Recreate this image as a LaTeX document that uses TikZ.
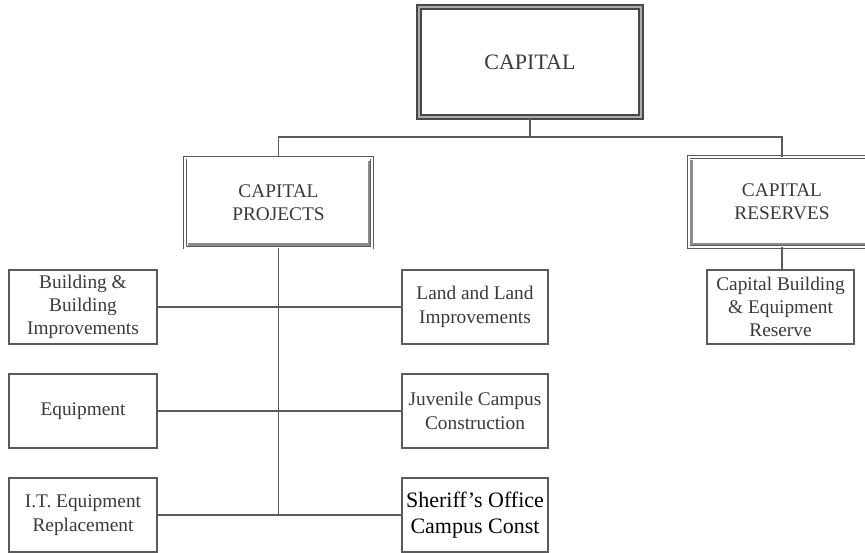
\documentclass[tikz,border=0pt]{standalone}
\usepackage{fontspec}
\setmainfont{Liberation Serif}
\definecolor{ln}{HTML}{5A5A5A}
\definecolor{tx}{HTML}{3A3A3A}
\definecolor{frame}{HTML}{484848}
\definecolor{shd}{HTML}{8C8C8C}
\begin{document}
\begin{tikzpicture}[x=0.75pt,y=-0.75pt,
  base/.style={align=center,text=tx,inner sep=0pt,font=\fontsize{14.5}{17.5}\selectfont},
  leaf/.style={base,draw=ln,line width=0.975pt,minimum width=110.25pt,minimum height=55.5pt},
  mid/.style={base,draw=ln,line width=0.675pt,double=white,double distance=1.5pt,minimum width=140.25pt,minimum height=67.5pt},
  top/.style={base,draw=frame,line width=1.8pt,double=gray!65,double distance=1pt,minimum width=166.5pt,minimum height=82.5pt,font=\fontsize{16.5}{19}\selectfont},
  conn/.style={draw=ln,line width=1.05pt},
  shade/.style={draw=shd,line width=2pt}]
\useasboundingbox (0,0) rectangle (865,553);
\clip (0,0) rectangle (865,553);
\fill[white] (0,0) rectangle (865,553);

\node[top] (cap) at (530,62) {CAPITAL};
\node[mid] (proj) at (278.5,202.5) {CAPITAL\\PROJECTS};
\node[mid] (res) at (782,202) {CAPITAL\\RESERVES};

\node[leaf,minimum width=111pt] (bld) at (83,307) {Building \&\\Building\\Improvements};
\node[leaf,minimum width=111pt] (eq) at (83,411) {Equipment};
\node[leaf,minimum width=111pt] (it) at (83,515) {I.T. Equipment\\Replacement};

\node[leaf,minimum width=109.5pt] (land) at (475,307) {Land and Land\\Improvements};
\node[leaf,minimum width=109.5pt] (juv) at (475,411) {Juvenile Campus\\Construction};
\node[leaf,minimum width=109.5pt,text=black,font=\fontsize{16.5}{19}\selectfont] (sher) at (475,515) {Sheriff’s Office\\Campus Const};

\node[leaf] (cb) at (780.5,307) {Capital Building\\\& Equipment\\Reserve};

% 3D shading on double frames
\draw[shade] ([shift={(3.5,-3.5)}]proj.south west) -- ([shift={(-3.5,-3.5)}]proj.south east) -- ([shift={(-3.5,3.5)}]proj.north east);
\draw[shade] ([shift={(3.5,-3.5)}]res.south east) -- ([shift={(3.5,-3.5)}]res.south west) -- ([shift={(3.5,3.5)}]res.north west);

% connectors
\coordinate (bus) at (530,137);
\draw[conn] (cap.south) -- (bus);
\draw[conn] (proj.north) |- (bus) -| (res.north);
\draw[conn] (proj.south) -- (proj.south |- it.east);
\draw[conn] (bld.east) -- (land.west);
\draw[conn] (eq.east) -- (juv.west);
\draw[conn] (it.east) -- (sher.west);
\draw[conn] (res.south) -- (res.south |- cb.north);
\end{tikzpicture}
\end{document}
